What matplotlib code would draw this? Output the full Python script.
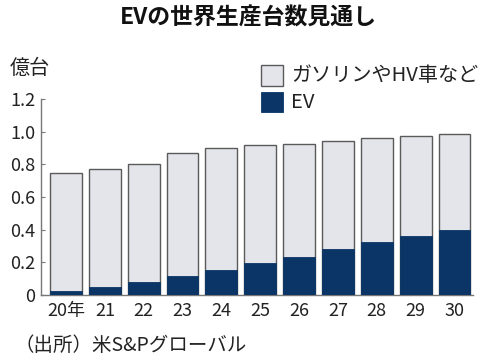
import matplotlib.pyplot as plt
from matplotlib.patches import Rectangle

plt.rcParams['font.family'] = ['Noto Sans CJK JP', 'DejaVu Sans']

# data (億台)
years = ['20年', '21', '22', '23', '24', '25', '26', '27', '28', '29', '30']
total = [0.744, 0.770, 0.805, 0.870, 0.903, 0.919, 0.924, 0.940, 0.960, 0.972, 0.985]
ev = [0.026, 0.050, 0.081, 0.116, 0.153, 0.198, 0.234, 0.281, 0.322, 0.361, 0.398]

light = '#e3e5ea'
navy = '#0b3566'
edge = '#5a5a5a'

fig = plt.figure(figsize=(4.97, 3.64), dpi=100)
ax = fig.add_axes([0.082, 0.1896, 0.870, 0.5384])

x = range(len(years))
ax.bar(x, total, width=0.82, color=light, edgecolor=edge, linewidth=1.0, zorder=2)
ax.bar(x, ev, width=0.82, color=navy, edgecolor=navy, linewidth=0.6, zorder=3)

ax.set_xlim(-0.65, 10.48)
ax.set_ylim(0, 1.2)
ax.set_yticks([0, 0.2, 0.4, 0.6, 0.8, 1.0, 1.2])
ax.set_yticklabels(['0', '0.2', '0.4', '0.6', '0.8', '1.0', '1.2'])
ax.set_xticks(list(x))
ax.set_xticklabels(years)

for s in ['top', 'right']:
    ax.spines[s].set_visible(False)
for s in ['left', 'bottom']:
    ax.spines[s].set_color('#777777')
    ax.spines[s].set_linewidth(1.0)
ax.tick_params(axis='y', direction='in', length=3, color='#777777',
               labelsize=13, labelcolor='#222222', pad=4)
ax.tick_params(axis='x', length=0, labelsize=13, labelcolor='#222222', pad=5)

fig.text(0.5, 0.95, 'EVの世界生産台数見通し', ha='center', va='center',
         fontsize=16.5, fontweight='bold', color='#111111')
fig.text(0.02, 0.812, '億台', ha='left', va='center', fontsize=14.5, color='#222222')
fig.text(0.03, 0.052, '（出所）米S&Pグローバル', ha='left', va='center',
         fontsize=14, color='#222222')

# legend
fig.patches.append(Rectangle((260.7 / 497, 1 - 86 / 364), 22 / 497, 21 / 364,
                             transform=fig.transFigure, facecolor=light,
                             edgecolor=edge, linewidth=1.0))
fig.patches.append(Rectangle((260.7 / 497, 1 - 112 / 364), 22 / 497, 20 / 364,
                             transform=fig.transFigure, facecolor=navy,
                             edgecolor=navy, linewidth=0.6))
fig.text(291 / 497, 1 - 75.5 / 364, 'ガソリンやHV車など', ha='left', va='center',
         fontsize=14.5, color='#222222')
fig.text(291 / 497, 1 - 102 / 364, 'EV', ha='left', va='center',
         fontsize=14.5, color='#222222')

fig.savefig('out.png', dpi=100, facecolor='white')
